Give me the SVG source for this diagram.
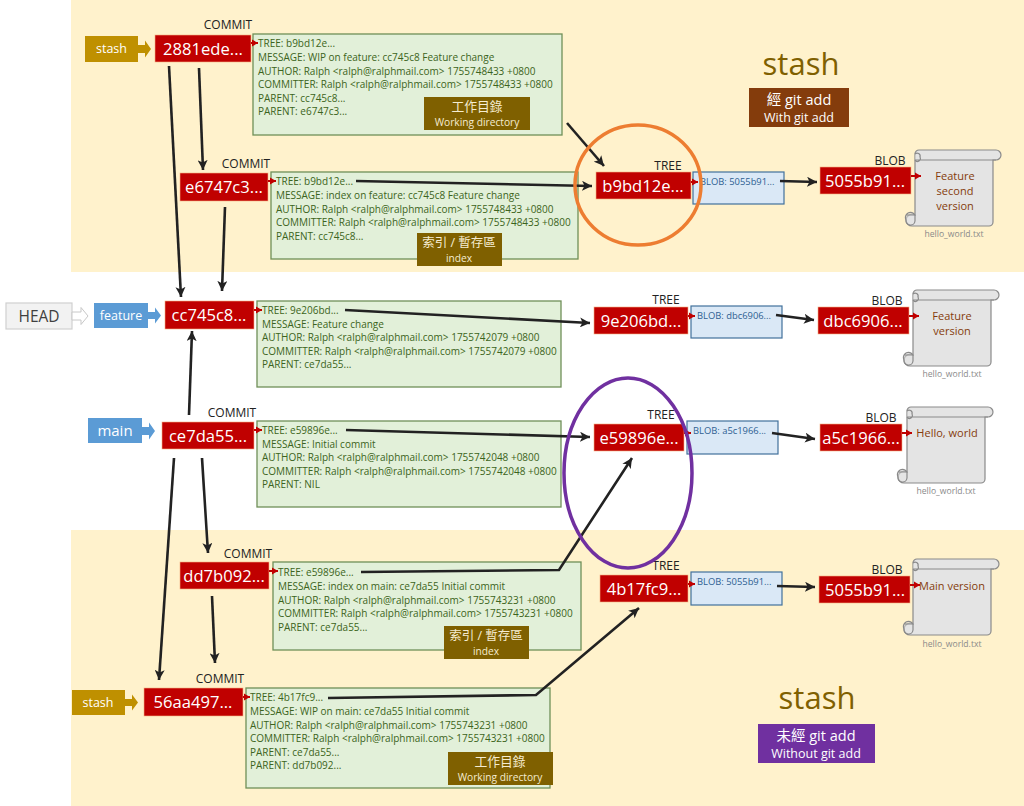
<svg xmlns="http://www.w3.org/2000/svg" width="1024" height="806" viewBox="0 0 1024 806">
<style>
text{font-family:"Open Sans","Noto Sans","Noto Sans CJK TC",sans-serif}
.band{fill:#fff2cc}
.hash{fill:#c00000;stroke:#f4b183;stroke-width:.6}
.ht{fill:#fff;font-size:16.6px;text-anchor:middle}
.lab{fill:#222;font-size:12px;text-anchor:middle}
.cb{fill:#e2f0d9;stroke:#6f8f58;stroke-width:1.3}
.ct{fill:#3c6420;font-size:10px}
.bb{fill:#dae8f6;stroke:#41719c;stroke-width:1.2}
.bt{fill:#2e5f92;font-size:9.4px}
.tag{fill:#7f6000}
.tt{fill:#f5ecd0;text-anchor:middle}
.gold{fill:#bf9000}
.blue{fill:#5b9bd5}
.wt{fill:#fff;text-anchor:middle}
.scr{fill:#e4e4e4;stroke:#8a8a8a;stroke-width:1.2}
.st{fill:#843c0c;font-size:11px;text-anchor:middle}
.fn{fill:#8a8a8a;font-size:8.6px;text-anchor:middle}
.ln{stroke:#222;stroke-width:2.6;fill:none;marker-end:url(#a)}
.rl{stroke:#c00000;stroke-width:2;fill:none;marker-end:url(#r)}
</style>
<defs>
<marker id="a" markerUnits="userSpaceOnUse" markerWidth="12" markerHeight="10" refX="10" refY="5" orient="auto"><path d="M0 0L10 5L0 10L2.500 5Z" fill="#222"/></marker>
<marker id="r" markerUnits="userSpaceOnUse" markerWidth="7" markerHeight="8" refX="6" refY="4" orient="auto"><path d="M0 0.500L6 4L0 7.500Z" fill="#c00000"/></marker>
<symbol id="scroll" viewBox="0 0 98 76" overflow="visible">
<path class="scr" d="M10 10V4a4 4 0 0 1 4-4H91a5 5 0 0 1 0 10H88V72a4 4 0 0 1-4 4H7a6 6 0 0 1-6-6 6 6 0 0 1 9-5Z"/>
<path class="scr" d="M10 10H91M10 4a3 3 0 0 1 5 3 2.500 2.500 0 0 1-5 3M10 65H1M1 70a5 5 0 0 1 9-5v6a3 3 0 0 1-9-1Z" fill-opacity=".5"/>
</symbol>
</defs>
<rect width="1024" height="806" fill="#fff"/>
<rect class="band" x="71" y="0" width="953" height="272"/>
<rect class="band" x="71" y="530" width="953" height="276"/>

<g id="title-top"><text x="801" y="75" fill="#7f6000" font-size="31" text-anchor="middle">stash</text>
<rect x="749" y="88" width="100" height="39" fill="#843c0c"/>
<text class="wt" x="799" y="105" font-size="14.500">經 git add</text><text class="wt" x="799" y="122" font-size="12.500">With git add</text></g>
<g id="title-bottom"><text x="817" y="709" fill="#7f6000" font-size="31" text-anchor="middle">stash</text>
<rect x="758" y="724" width="117" height="39" fill="#7030a0"/>
<text class="wt" x="816" y="741" font-size="14.500">未經 git add</text><text class="wt" x="816" y="758" font-size="12.500">Without git add</text></g>

<g id="ref-stash1"><rect class="gold" x="85" y="36" width="53" height="26"/><text class="wt" x="111.500" y="53" font-size="12.500">stash</text><path class="gold" d="M138 45H145V40.500L151 49L145 57.500V53H138Z"/></g>
<g id="ref-head"><rect x="6" y="303" width="66" height="26" fill="#f2f2f2" stroke="#d0d0d0" stroke-width="1.200"/><text x="39" y="322" fill="#404040" font-size="15.500" text-anchor="middle">HEAD</text><path d="M72 312H81V307.500L88 316L81 324.500V320H72Z" fill="#fff" stroke="#c8c8c8"/></g>
<g id="ref-feature"><rect class="blue" x="94" y="303" width="54" height="25"/><text class="wt" x="121" y="320" font-size="12.500">feature</text><path class="blue" d="M148 312H155V307.500L161 315.500L155 323.500V319H148Z"/></g>
<g id="ref-main"><rect class="blue" x="88" y="418" width="54" height="25"/><text class="wt" x="115" y="436" font-size="15">main</text><path class="blue" d="M142 427H149V422.500L155 431L149 439.500V435H142Z"/></g>
<g id="ref-stash2"><rect class="gold" x="72" y="690" width="53" height="25"/><text class="wt" x="98" y="707" font-size="12.500">stash</text><path class="gold" d="M125 699H132V694.500L138 702.500L132 710.500V706H125Z"/></g>

<g id="commit-2881ede"><text class="lab" x="228" y="29">COMMIT</text><rect class="hash" x="155" y="35" width="96" height="27"/><text class="ht" x="203" y="54.500">2881ede...</text>
<rect class="cb" x="253" y="34" width="309" height="101"/>
<text class="ct"><tspan x="258" y="47">TREE: b9bd12e...</tspan><tspan x="258" y="61">MESSAGE: WIP on feature: cc745c8 Feature change</tspan><tspan x="258" y="74.500">AUTHOR: Ralph &lt;ralph@ralphmail.com&gt; 1755748433 +0800</tspan><tspan x="258" y="88">COMMITTER: Ralph &lt;ralph@ralphmail.com&gt; 1755748433 +0800</tspan><tspan x="258" y="101.500">PARENT: cc745c8...</tspan><tspan x="258" y="115">PARENT: e6747c3...</tspan></text>
<rect class="tag" x="424" y="97" width="106" height="33"/><text class="tt" x="477" y="111" font-size="12.800">工作目錄</text><text class="tt" x="477" y="126" font-size="10.200">Working directory</text></g>
<g id="commit-e6747c3"><text class="lab" x="246" y="168">COMMIT</text><rect class="hash" x="180" y="173" width="88" height="28"/><text class="ht" x="224" y="193">e6747c3...</text>
<rect class="cb" x="271" y="172" width="307" height="87"/>
<text class="ct"><tspan x="276" y="185">TREE: b9bd12e...</tspan><tspan x="276" y="199">MESSAGE: index on feature: cc745c8 Feature change</tspan><tspan x="276" y="212.500">AUTHOR: Ralph &lt;ralph@ralphmail.com&gt; 1755748433 +0800</tspan><tspan x="276" y="226">COMMITTER: Ralph &lt;ralph@ralphmail.com&gt; 1755748433 +0800</tspan><tspan x="276" y="240">PARENT: cc745c8...</tspan></text>
<rect class="tag" x="417" y="233" width="85" height="33"/><text class="tt" x="459" y="247" font-size="12.500">索引 / 暫存區</text><text class="tt" x="459" y="262" font-size="10.200">index</text></g>
<g id="commit-cc745c8"><rect class="hash" x="165" y="301" width="89" height="28"/><text class="ht" x="209" y="321">cc745c8...</text>
<rect class="cb" x="257" y="301" width="304" height="86"/>
<text class="ct"><tspan x="262" y="314">TREE: 9e206bd...</tspan><tspan x="262" y="327.500">MESSAGE: Feature change</tspan><tspan x="262" y="341">AUTHOR: Ralph &lt;ralph@ralphmail.com&gt; 1755742079 +0800</tspan><tspan x="262" y="354.500">COMMITTER: Ralph &lt;ralph@ralphmail.com&gt; 1755742079 +0800</tspan><tspan x="262" y="368">PARENT: ce7da55...</tspan></text></g>
<g id="commit-ce7da55"><text class="lab" x="232" y="417">COMMIT</text><rect class="hash" x="162" y="422" width="92" height="27"/><text class="ht" x="208" y="441.500">ce7da55...</text>
<rect class="cb" x="257" y="421" width="304" height="86"/>
<text class="ct"><tspan x="262" y="434">TREE: e59896e...</tspan><tspan x="262" y="447.500">MESSAGE: Initial commit</tspan><tspan x="262" y="461">AUTHOR: Ralph &lt;ralph@ralphmail.com&gt; 1755742048 +0800</tspan><tspan x="262" y="474.500">COMMITTER: Ralph &lt;ralph@ralphmail.com&gt; 1755742048 +0800</tspan><tspan x="262" y="488">PARENT: NIL</tspan></text></g>
<g id="commit-dd7b092"><text class="lab" x="248" y="558">COMMIT</text><rect class="hash" x="180" y="562" width="89" height="27"/><text class="ht" x="224" y="581.500">dd7b092...</text>
<rect class="cb" x="273" y="562" width="308" height="88"/>
<text class="ct"><tspan x="278" y="576">TREE: e59896e...</tspan><tspan x="278" y="590">MESSAGE: index on main: ce7da55 Initial commit</tspan><tspan x="278" y="603.500">AUTHOR: Ralph &lt;ralph@ralphmail.com&gt; 1755743231 +0800</tspan><tspan x="278" y="617">COMMITTER: Ralph &lt;ralph@ralphmail.com&gt; 1755743231 +0800</tspan><tspan x="278" y="630.500">PARENT: ce7da55...</tspan></text>
<rect class="tag" x="444" y="626" width="85" height="33"/><text class="tt" x="486" y="640" font-size="12.500">索引 / 暫存區</text><text class="tt" x="486" y="655" font-size="10.200">index</text></g>
<g id="commit-56aa497"><text class="lab" x="220" y="683">COMMIT</text><rect class="hash" x="144" y="688" width="99" height="28"/><text class="ht" x="193" y="708">56aa497...</text>
<rect class="cb" x="246" y="688" width="304" height="100"/>
<text class="ct"><tspan x="250" y="701">TREE: 4b17fc9...</tspan><tspan x="250" y="715">MESSAGE: WIP on main: ce7da55 Initial commit</tspan><tspan x="250" y="728.500">AUTHOR: Ralph &lt;ralph@ralphmail.com&gt; 1755743231 +0800</tspan><tspan x="250" y="742">COMMITTER: Ralph &lt;ralph@ralphmail.com&gt; 1755743231 +0800</tspan><tspan x="250" y="755.500">PARENT: ce7da55...</tspan><tspan x="250" y="769">PARENT: dd7b092...</tspan></text>
<rect class="tag" x="448" y="752" width="105" height="33"/><text class="tt" x="500" y="766" font-size="12.800">工作目錄</text><text class="tt" x="500" y="781" font-size="10.200">Working directory</text></g>

<g id="tree-b9bd12e"><text class="lab" x="668" y="170">TREE</text><rect class="hash" x="596" y="172" width="95" height="27"/><text class="ht" x="643" y="191.500">b9bd12e...</text><rect class="bb" x="693" y="172" width="91" height="32"/><text class="bt" x="700" y="185">BLOB: 5055b91...</text></g>
<g id="tree-9e206bd"><text class="lab" x="666" y="304">TREE</text><rect class="hash" x="594" y="307" width="94" height="27"/><text class="ht" x="641" y="326.500">9e206bd...</text><rect class="bb" x="691" y="306" width="91" height="32"/><text class="bt" x="697" y="319">BLOB: dbc6906...</text></g>
<g id="tree-e59896e"><text class="lab" x="661" y="419">TREE</text><rect class="hash" x="594" y="424" width="90" height="27"/><text class="ht" x="639" y="443.500">e59896e...</text><rect class="bb" x="687" y="421" width="91" height="33"/><text class="bt" x="693" y="434">BLOB: a5c1966...</text></g>
<g id="tree-4b17fc9"><text class="lab" x="666" y="570">TREE</text><rect class="hash" x="600" y="575" width="88" height="27"/><text class="ht" x="644" y="594.500">4b17fc9...</text><rect class="bb" x="691" y="572" width="91" height="33"/><text class="bt" x="697" y="585">BLOB: 5055b91...</text></g>

<g id="blob-5055b91-a"><text class="lab" x="890" y="165">BLOB</text><rect class="hash" x="820" y="167" width="91" height="27"/><text class="ht" x="865" y="186.500">5055b91...</text><use href="#scroll" x="905" y="150" width="98" height="76"/><text class="st"><tspan x="955" y="180">Feature</tspan><tspan x="955" y="195">second</tspan><tspan x="955" y="210">version</tspan></text><text class="fn" x="954" y="237">hello_world.txt</text></g>
<g id="blob-dbc6906"><text class="lab" x="887" y="305">BLOB</text><rect class="hash" x="818" y="307" width="91" height="27"/><text class="ht" x="863" y="326.500">dbc6906...</text><use href="#scroll" x="903" y="290" width="98" height="76"/><text class="st"><tspan x="952" y="320">Feature</tspan><tspan x="952" y="335">version</tspan></text><text class="fn" x="952" y="377">hello_world.txt</text></g>
<g id="blob-a5c1966"><text class="lab" x="881" y="422">BLOB</text><rect class="hash" x="820" y="424" width="82" height="27"/><text class="ht" x="861" y="443.500">a5c1966...</text><use href="#scroll" x="897" y="407" width="98" height="76"/><text class="st" x="947" y="437">Hello, world</text><text class="fn" x="946" y="494">hello_world.txt</text></g>
<g id="blob-5055b91-b"><text class="lab" x="887" y="574">BLOB</text><rect class="hash" x="819" y="576" width="91" height="27"/><text class="ht" x="865" y="595.500">5055b91...</text><use href="#scroll" x="903" y="559" width="98" height="76"/><text class="st" x="952" y="590">Main version</text><text class="fn" x="952" y="647">hello_world.txt</text></g>

<g id="connectors">
<path class="rl" d="M251 43H258"/><path class="rl" d="M268 181H276"/><path class="rl" d="M254 310H262"/><path class="rl" d="M254 430H262"/><path class="rl" d="M269 571H278"/><path class="rl" d="M243 697H250"/>
<path class="rl" d="M691 182H698"/><path class="rl" d="M688 316H695"/><path class="rl" d="M684 433H691"/><path class="rl" d="M688 584H695"/>
<path class="rl" d="M911 176H921"/><path class="rl" d="M909 316H919"/><path class="rl" d="M902 433H912"/><path class="rl" d="M910 585H920"/>
<path class="ln" d="M199 68L203 170"/><path class="ln" d="M169 66L181 297"/><path class="ln" d="M225 207L222 291"/>
<path class="ln" d="M189 415L192 331"/><path class="ln" d="M202 458L208 553"/><path class="ln" d="M174 458L159 680"/><path class="ln" d="M212 596L215 663"/>
<path class="ln" d="M356 181L592 186"/><path class="ln" d="M567 123L604 166"/><path class="ln" d="M345 310L590 323"/><path class="ln" d="M346 430L590 437"/>
<path class="ln" d="M361 572L559 570L632 458"/><path class="ln" d="M328 698L536 695L639 608"/>
<path class="ln" d="M780 181L817 182"/><path class="ln" d="M776 315L814 320"/><path class="ln" d="M772 433L815 439"/><path class="ln" d="M777 586L815 587"/>
</g>
<ellipse id="ring-orange" cx="638" cy="185" rx="63" ry="60" fill="none" stroke="#ed7d31" stroke-width="3.500"/>
<ellipse id="ring-purple" cx="628" cy="473" rx="64" ry="95" fill="none" stroke="#7030a0" stroke-width="3.500"/>
</svg>
